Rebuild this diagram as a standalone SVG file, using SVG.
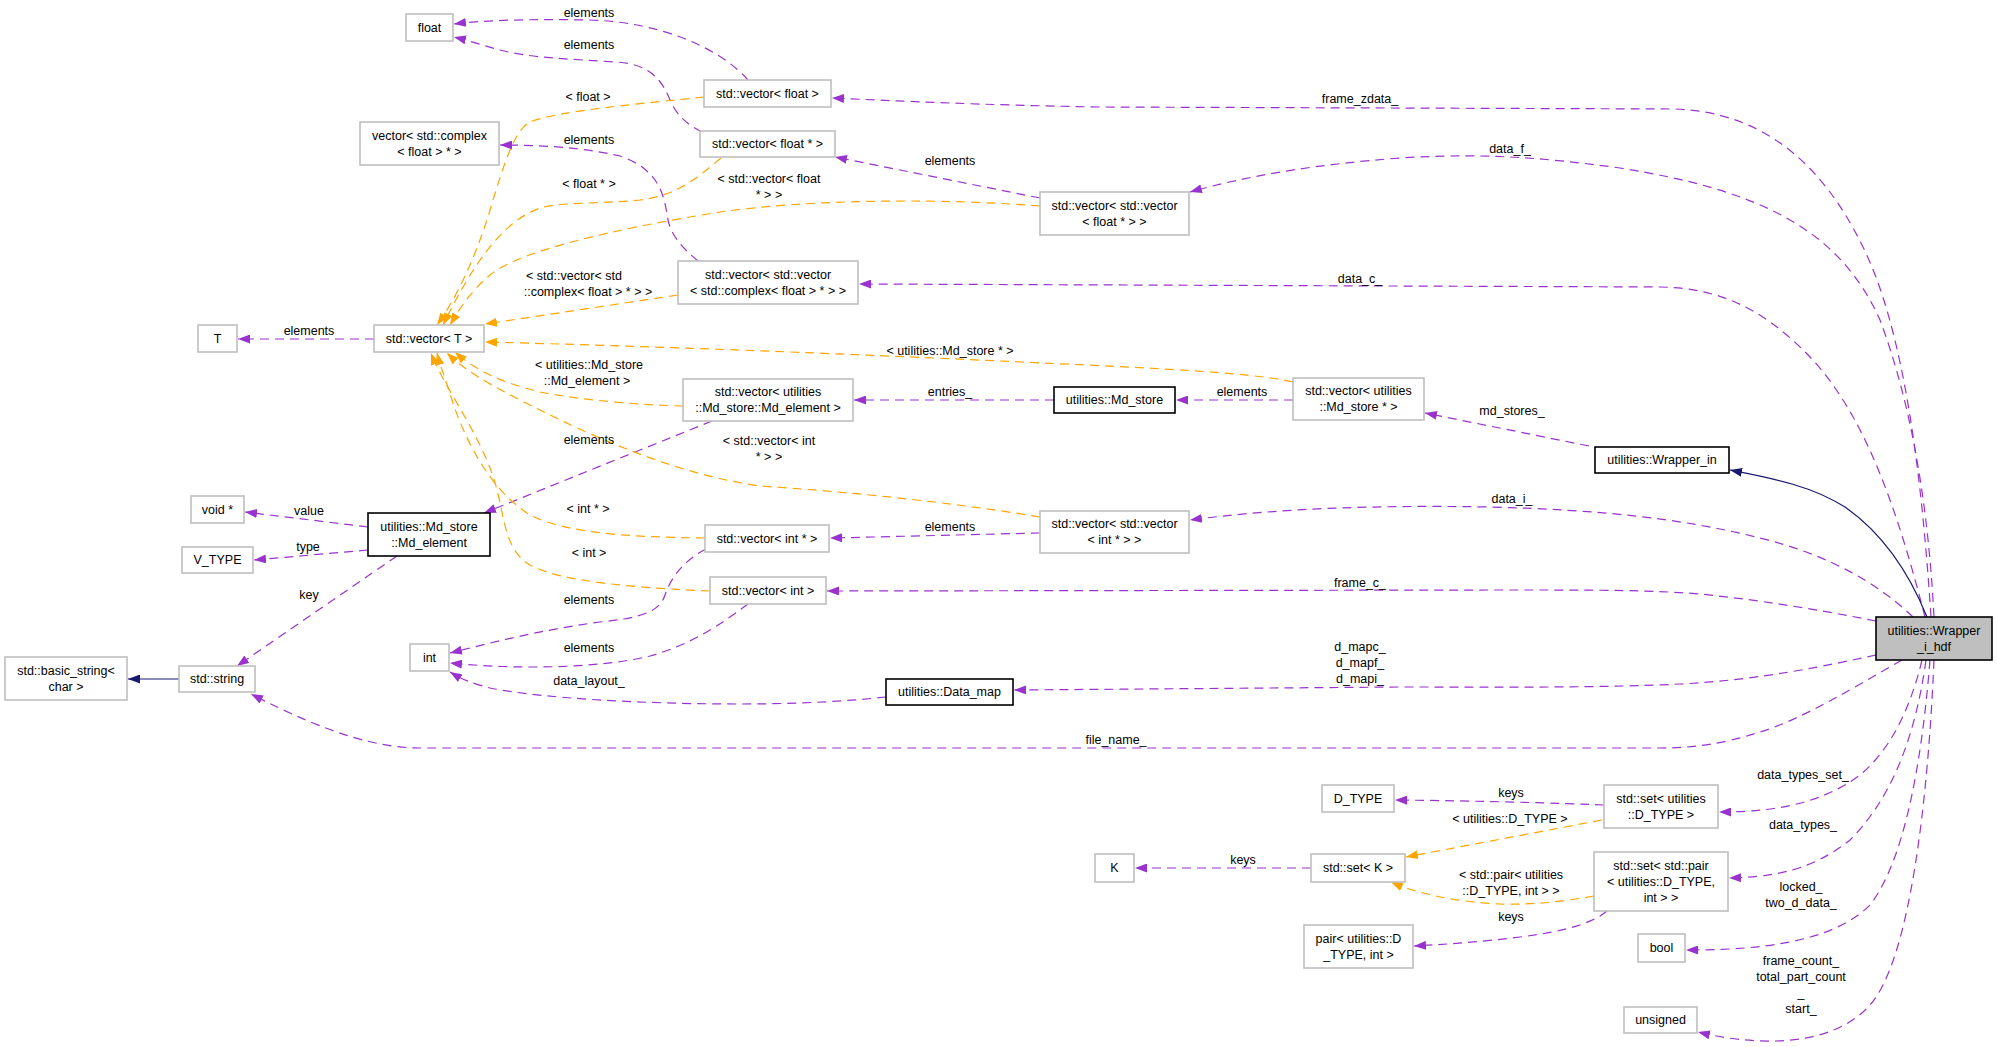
<svg xmlns="http://www.w3.org/2000/svg" width="1997" height="1047" viewBox="0 0 1997 1047">
<style>
text{font-family:"Liberation Sans",Arial,sans-serif;font-size:12.5px;fill:#000;text-anchor:middle}
.n rect{fill:#fff;stroke:#bfbfbf;stroke-width:1.6}
.b rect{fill:#fff;stroke:#000;stroke-width:1.6}
.root rect{fill:#bfbfbf;stroke:#000;stroke-width:1.6}
.p{fill:none;stroke:#9a32cd;stroke-width:1.2;stroke-dasharray:9,6;marker-end:url(#ap)}
.o{fill:none;stroke:#ffa500;stroke-width:1.2;stroke-dasharray:9,6;marker-end:url(#ao)}
.v{fill:none;stroke:#191970;stroke-width:1.2;marker-end:url(#av)}
</style>
<defs>
<marker id="ap" viewBox="0 0 12 9" refX="12" refY="4.5" markerWidth="12" markerHeight="9" markerUnits="userSpaceOnUse" orient="auto"><path d="M0,0L12,4.5L0,9z" fill="#9a32cd"/></marker>
<marker id="ao" viewBox="0 0 12 9" refX="12" refY="4.5" markerWidth="12" markerHeight="9" markerUnits="userSpaceOnUse" orient="auto"><path d="M0,0L12,4.5L0,9z" fill="#ffa500"/></marker>
<marker id="av" viewBox="0 0 12 9" refX="12" refY="4.5" markerWidth="12" markerHeight="9" markerUnits="userSpaceOnUse" orient="auto"><path d="M0,0L12,4.5L0,9z" fill="#191970"/></marker>
</defs>
<rect width="1997" height="1047" fill="#fff"/>
<g id="edges">
<path class="p" d="M748,80 C720,48 660,22 590,20 C530,19 485,20 454,24"/>
<path class="p" d="M702,132 C685,124 675,112 670,100 C662,80 650,64 616,62 C570,59 530,58 500,50 C485,46 470,41 454,37"/>
<path class="p" d="M698,261 C685,250 672,238 668,220 C664,195 660,170 620,156 C580,147 540,145 500,145"/>
<path class="p" d="M1040,198 L835,157"/>
<path class="p" d="M1931,617 C1922,480 1905,330 1862,245 C1820,160 1760,112 1675,109 L1100,107 C980,105 900,101 832,98"/>
<path class="p" d="M1934,617 C1928,500 1910,400 1880,320 C1840,230 1760,190 1620,168 C1540,157 1480,153 1400,158 C1320,164 1250,175 1190,192"/>
<path class="p" d="M1925,617 C1900,520 1868,418 1810,357 C1760,305 1715,288 1660,287 L859,284"/>
<path class="p" d="M1913,617 C1880,585 1830,555 1760,538 C1680,518 1600,510 1490,507 C1380,505 1280,508 1190,520"/>
<path class="p" d="M1876,621 C1820,610 1760,600 1700,594 C1650,590 1600,590 1500,590 L827,591"/>
<path class="p" d="M1876,655 C1830,665 1760,680 1680,684 C1600,688 1500,687 1400,687 L1014,690"/>
<path class="p" d="M1902,660 C1850,690 1800,720 1760,732 C1720,745 1690,748 1660,748 L420,748 C380,748 330,735 251,694"/>
<path class="p" d="M1922,660 C1910,710 1890,750 1860,775 C1820,805 1770,812 1719,812"/>
<path class="p" d="M1926,660 C1915,740 1890,800 1850,840 C1810,872 1770,877 1729,878"/>
<path class="p" d="M1930,660 C1922,760 1905,860 1870,905 C1830,945 1750,950 1686,950"/>
<path class="p" d="M1934,660 C1928,800 1910,960 1870,1005 C1830,1050 1750,1045 1698,1032"/>
<path class="p" d="M1589,446 L1425,413"/>
<path class="p" d="M1293,400 L1176,400"/>
<path class="p" d="M1054,400 L854,400"/>
<path class="p" d="M1040,533 C950,535 880,537 830,538"/>
<path class="p" d="M712,421 L484,513"/>
<path class="p" d="M368,527 L245,512"/>
<path class="p" d="M368,550 L254,560"/>
<path class="p" d="M397,556 L237,666"/>
<path class="p" d="M706,549 C685,560 672,575 665,595 C660,612 640,618 600,622 C540,630 490,643 450,653"/>
<path class="p" d="M748,604 C720,625 690,645 650,656 C600,668 520,670 450,663"/>
<path class="p" d="M886,697 C840,702 790,704 740,704 C640,704 540,698 490,688 C470,683 460,678 450,672"/>
<path class="p" d="M374,339 L238,339"/>
<path class="p" d="M1604,805 C1560,803 1480,801 1395,800"/>
<path class="p" d="M1311,868 L1135,868"/>
<path class="p" d="M1607,911 C1590,925 1560,932 1520,937 C1480,942 1450,944 1414,946"/>
<path class="o" d="M704,97 C650,103 560,110 530,122 C515,130 505,160 490,210 C475,260 455,300 437,325"/>
<path class="o" d="M721,158 C700,175 680,195 640,200 C600,204 560,202 540,208 C500,222 470,270 443,325"/>
<path class="o" d="M1040,206 C950,199 820,198 720,212 C620,228 520,250 490,275 C470,292 460,308 450,325"/>
<path class="o" d="M678,295 L485,324"/>
<path class="o" d="M1293,382 C1250,372 1150,368 1000,361 C850,354 650,346 485,342"/>
<path class="o" d="M683,406 C640,405 580,400 540,392 C500,382 475,370 455,352"/>
<path class="o" d="M1040,517 C950,502 850,492 760,486 C680,475 600,440 540,410 C500,390 470,375 447,353"/>
<path class="o" d="M705,538 C640,537 570,535 530,515 C490,490 465,440 452,400 C445,378 440,365 437,353"/>
<path class="o" d="M710,591 C640,588 560,582 530,565 C505,550 505,520 497,490 C485,440 445,390 431,353"/>
<path class="o" d="M1602,820 L1406,857"/>
<path class="o" d="M1594,896 C1560,902 1530,905 1500,904 C1460,902 1420,895 1391,882"/>
<path class="v" d="M1927,617 C1910,575 1885,535 1845,507 C1810,485 1770,478 1730,470"/>
<path class="v" d="M179,679 L128,679"/>
<g id="edge-labels">
<text x="589" y="17">elements</text>
<text x="589" y="49">elements</text>
<text x="588" y="101">&lt; float &gt;</text>
<text x="1360" y="103">frame_zdata_</text>
<text x="589" y="144">elements</text>
<text x="1510" y="153">data_f_</text>
<text x="950" y="165">elements</text>
<text x="769" y="183">&lt; std::vector&lt; float</text>
<text x="769" y="199">* &gt; &gt;</text>
<text x="589" y="188">&lt; float * &gt;</text>
<text x="574" y="280">&lt; std::vector&lt; std</text>
<text x="588" y="296">::complex&lt; float &gt; * &gt; &gt;</text>
<text x="1360" y="283">data_c_</text>
<text x="309" y="335">elements</text>
<text x="950" y="355">&lt; utilities::Md_store * &gt;</text>
<text x="589" y="369">&lt; utilities::Md_store</text>
<text x="587" y="385">::Md_element &gt;</text>
<text x="950" y="396">entries_</text>
<text x="1242" y="396">elements</text>
<text x="1512" y="415">md_stores_</text>
<text x="589" y="444">elements</text>
<text x="769" y="445">&lt; std::vector&lt; int</text>
<text x="769" y="461">* &gt; &gt;</text>
<text x="1512" y="503">data_i_</text>
<text x="588" y="513">&lt; int * &gt;</text>
<text x="309" y="515">value</text>
<text x="950" y="531">elements</text>
<text x="308" y="551">type</text>
<text x="589" y="557">&lt; int &gt;</text>
<text x="1360" y="587">frame_c_</text>
<text x="309" y="599">key</text>
<text x="589" y="604">elements</text>
<text x="1360" y="651">d_mapc_</text>
<text x="1360" y="667">d_mapf_</text>
<text x="1360" y="683">d_mapi_</text>
<text x="589" y="652">elements</text>
<text x="589" y="685">data_layout_</text>
<text x="1116" y="744">file_name_</text>
<text x="1803" y="779">data_types_set_</text>
<text x="1511" y="797">keys</text>
<text x="1510" y="823">&lt; utilities::D_TYPE &gt;</text>
<text x="1803" y="829">data_types_</text>
<text x="1243" y="864">keys</text>
<text x="1511" y="879">&lt; std::pair&lt; utilities</text>
<text x="1511" y="895">::D_TYPE, int &gt; &gt;</text>
<text x="1801" y="891">locked_</text>
<text x="1801" y="907">two_d_data_</text>
<text x="1511" y="921">keys</text>
<text x="1801" y="965">frame_count_</text>
<text x="1801" y="981">total_part_count</text>
<text x="1801" y="997">_</text>
<text x="1801" y="1013">start_</text>
</g>
</g>
<g id="node-float" class="n"><rect x="406" y="14" width="47" height="27"/><text x="429.5" y="32">float</text></g>
<g id="node-vector-complex-float-ptr" class="n"><rect x="360" y="122" width="139" height="43"/><text x="429.5" y="139.5">vector&lt; std::complex</text><text x="429.5" y="155.5">&lt; float &gt; * &gt;</text></g>
<g id="node-T" class="n"><rect x="198" y="325" width="39" height="27"/><text x="217.5" y="343">T</text></g>
<g id="node-vector-T" class="n"><rect x="374" y="325" width="110" height="27"/><text x="429" y="343">std::vector&lt; T &gt;</text></g>
<g id="node-vector-float" class="n"><rect x="704" y="80" width="127" height="27"/><text x="767.5" y="98">std::vector&lt; float &gt;</text></g>
<g id="node-vector-float-ptr" class="n"><rect x="700" y="131" width="135" height="26"/><text x="767.5" y="148">std::vector&lt; float * &gt;</text></g>
<g id="node-vector-vector-float-ptr" class="n"><rect x="1040" y="192" width="149" height="43"/><text x="1114.5" y="209.5">std::vector&lt; std::vector</text><text x="1114.5" y="225.5">&lt; float * &gt; &gt;</text></g>
<g id="node-vector-vector-complex" class="n"><rect x="678" y="261" width="180" height="43"/><text x="768" y="278.5">std::vector&lt; std::vector</text><text x="768" y="294.5">&lt; std::complex&lt; float &gt; * &gt; &gt;</text></g>
<g id="node-vector-md-element" class="n"><rect x="683" y="379" width="170" height="42"/><text x="768" y="396">std::vector&lt; utilities</text><text x="768" y="412">::Md_store::Md_element &gt;</text></g>
<g id="node-md-store" class="b"><rect x="1054" y="387" width="121" height="26"/><text x="1114.5" y="404">utilities::Md_store</text></g>
<g id="node-vector-md-store-ptr" class="n"><rect x="1293" y="378" width="131" height="42"/><text x="1358.5" y="395">std::vector&lt; utilities</text><text x="1358.5" y="411">::Md_store * &gt;</text></g>
<g id="node-void-ptr" class="n"><rect x="191" y="496" width="53" height="27"/><text x="217.5" y="514">void *</text></g>
<g id="node-V_TYPE" class="n"><rect x="182" y="547" width="71" height="26"/><text x="217.5" y="564">V_TYPE</text></g>
<g id="node-md-element" class="b"><rect x="368" y="513" width="122" height="43"/><text x="429" y="530.5">utilities::Md_store</text><text x="429" y="546.5">::Md_element</text></g>
<g id="node-basic-string" class="n"><rect x="5" y="657" width="122" height="43"/><text x="66" y="674.5">std::basic_string&lt;</text><text x="66" y="690.5">char &gt;</text></g>
<g id="node-string" class="n"><rect x="179" y="666" width="76" height="26"/><text x="217" y="683">std::string</text></g>
<g id="node-int" class="n"><rect x="410" y="644" width="39" height="27"/><text x="429.5" y="662">int</text></g>
<g id="node-vector-int-ptr" class="n"><rect x="705" y="525" width="124" height="27"/><text x="767" y="543">std::vector&lt; int * &gt;</text></g>
<g id="node-vector-vector-int-ptr" class="n"><rect x="1040" y="511" width="149" height="42"/><text x="1114.5" y="528">std::vector&lt; std::vector</text><text x="1114.5" y="544">&lt; int * &gt; &gt;</text></g>
<g id="node-vector-int" class="n"><rect x="710" y="577" width="116" height="27"/><text x="768" y="595">std::vector&lt; int &gt;</text></g>
<g id="node-data-map" class="b"><rect x="886" y="679" width="127" height="26"/><text x="949.5" y="696">utilities::Data_map</text></g>
<g id="node-wrapper-in" class="b"><rect x="1595" y="447" width="134" height="26"/><text x="1662" y="464">utilities::Wrapper_in</text></g>
<g id="node-wrapper-i-hdf" class="root"><rect x="1876" y="617" width="116" height="43"/><text x="1934" y="634.5">utilities::Wrapper</text><text x="1934" y="650.5">_i_hdf</text></g>
<g id="node-D_TYPE" class="n"><rect x="1322" y="785" width="72" height="27"/><text x="1358" y="803">D_TYPE</text></g>
<g id="node-set-dtype" class="n"><rect x="1604" y="785" width="114" height="43"/><text x="1661" y="802.5">std::set&lt; utilities</text><text x="1661" y="818.5">::D_TYPE &gt;</text></g>
<g id="node-K" class="n"><rect x="1095" y="854" width="39" height="28"/><text x="1114.5" y="872">K</text></g>
<g id="node-set-K" class="n"><rect x="1311" y="854" width="94" height="28"/><text x="1358" y="872">std::set&lt; K &gt;</text></g>
<g id="node-set-pair" class="n"><rect x="1594" y="852" width="134" height="59"/><text x="1661" y="869.5">std::set&lt; std::pair</text><text x="1661" y="885.5">&lt; utilities::D_TYPE,</text><text x="1661" y="901.5">int &gt; &gt;</text></g>
<g id="node-pair" class="n"><rect x="1304" y="925" width="109" height="43"/><text x="1358.5" y="942.5">pair&lt; utilities::D</text><text x="1358.5" y="958.5">_TYPE, int &gt;</text></g>
<g id="node-bool" class="n"><rect x="1638" y="934" width="47" height="28"/><text x="1661.5" y="952">bool</text></g>
<g id="node-unsigned" class="n"><rect x="1624" y="1007" width="73" height="26"/><text x="1660.5" y="1024">unsigned</text></g>
</svg>
